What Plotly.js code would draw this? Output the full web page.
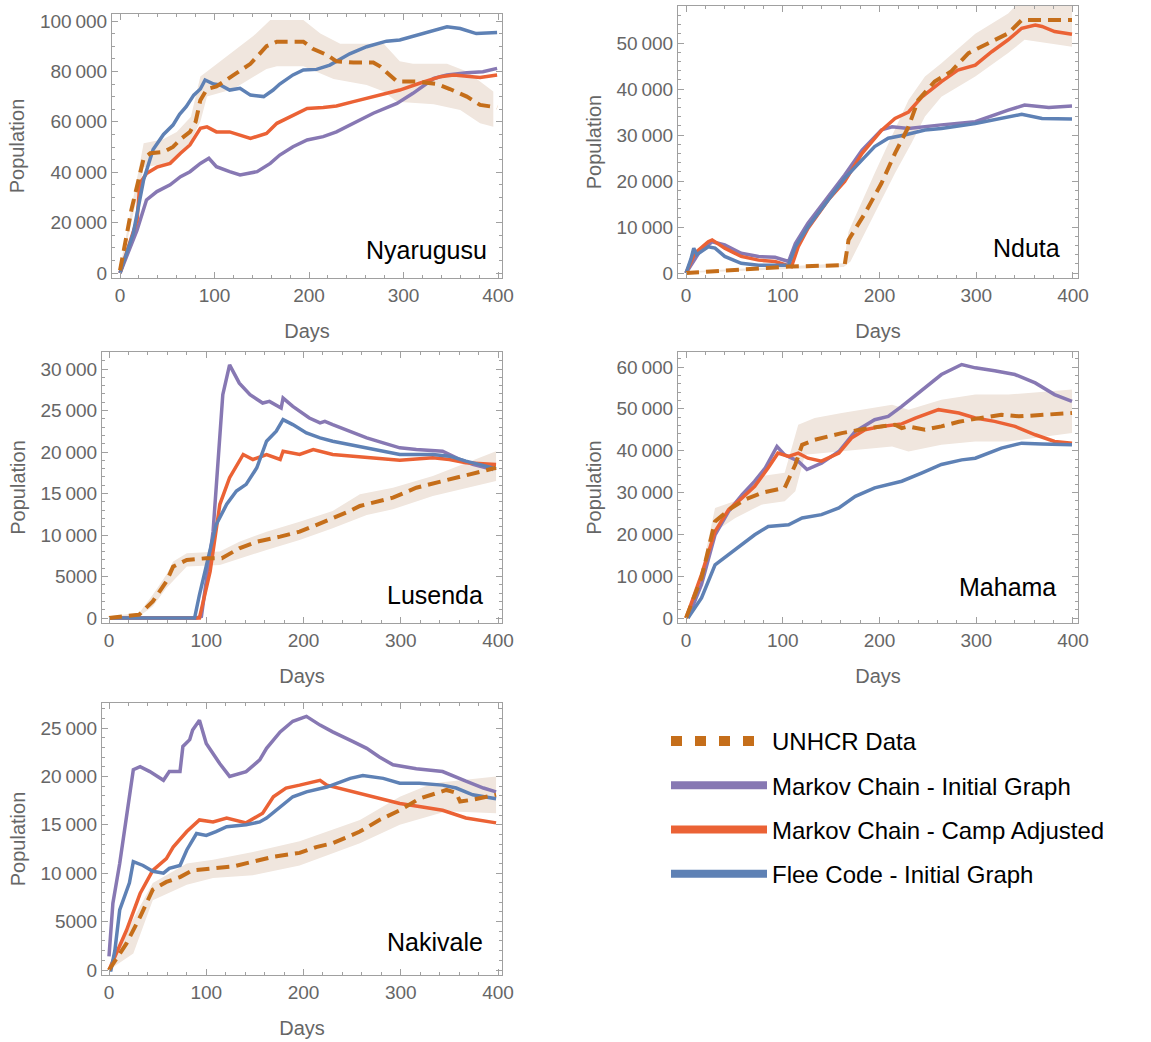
<!DOCTYPE html>
<html>
<head>
<meta charset="utf-8">
<script src="https://cdn.plot.ly/plotly-3.0.1.min.js"></script>
<style>html,body{margin:0;padding:0;background:#fff;}#chart{width:1151px;height:1042px;}</style>
</head>
<body>
<div id="chart"></div>
<script>
// ---------- Series names ----------
const seriesNames = ["UNHCR Data", "Markov Chain - Initial Graph", "Markov Chain - Camp Adjusted", "Flee Code - Initial Graph"];
const campNames = ["Nyarugusu", "Nduta", "Lusenda", "Mahama", "Nakivale"];

// ---------- Nyarugusu ----------
const nyUnhcrX = [0,12,25,32,46,56,65,74,80,85,92,102,120,138,155,166,194,204,219,229,247,268,275,293,314,335,349,367,381,399];
const nyUnhcrY = [1000,25000,45500,47500,48000,50000,53400,56000,60000,68600,73000,74000,78500,83000,90000,91800,91800,89000,86500,84000,83500,83500,82000,76000,76000,75000,73000,70000,66700,65700];
const nyBandHiX = [0,25,45,60,75,85,92,113,127,141,159,194,212,233,279,296,310,346,367,395];
const nyBandHi = [2000,51500,53000,56000,62000,78000,80000,86000,90000,94000,100400,100400,95000,91000,91000,84000,83000,83000,80000,72000];
const nyBandLoX = [0,25,50,70,85,92,120,155,166,194,226,261,279,293,332,360,381,395];
const nyBandLo = [0,42000,43500,48800,60000,70000,73000,81000,82000,82000,77000,74600,72000,68000,67000,64700,59400,58000];
const nyMcX = [0,18,28,39,53,64,74,85,94,102,116,127,145,159,169,183,198,215,229,247,268,293,310,332,346,367,384,399];
const nyMcY = [0,17000,29000,32300,35000,38200,40200,43500,45500,42200,40200,38900,40200,43500,46800,50100,52800,54100,56000,59400,63400,67300,71300,77200,78600,79500,79900,81200];
const nyAdjX = [0,18,21,28,39,53,64,74,85,92,102,116,138,155,166,183,198,215,229,247,261,279,296,317,339,353,381,399];
const nyAdjY = [0,21000,35600,39500,42000,43500,47500,50800,57400,58000,56000,56000,53400,55400,59400,62700,65300,65700,66300,68000,69300,71300,72600,75300,77900,78600,77600,78600];
const nyFleeX = [0,14,25,35,46,56,63,70,78,85,90,99,106,116,127,138,152,162,169,183,194,208,222,243,261,282,296,314,335,346,360,377,399];
const nyFleeY = [0,15700,37000,49000,55000,58700,63000,66000,70600,73000,76600,75000,74600,72600,73300,70600,70000,72600,75000,78600,80600,80800,82500,87000,89800,92000,92500,94400,96700,97700,97000,95000,95400];

// ---------- Nduta ----------
const ndUnhcrX = [0,57,106,164,168,185,202,216,230,240,257,274,292,312,333,347,367,399];
const ndUnhcrY = [0,650,1400,1700,7200,13000,19500,26000,31800,37600,41600,43800,47800,49900,52100,55000,55000,55000];
const ndBandHiX = [0,163,168,195,230,247,264,299,333,343,399];
const ndBandHi = [300,2100,9000,21700,37600,42700,45600,52000,56400,58600,61000];
const ndBandLoX = [0,163,170,188,216,233,247,264,299,333,350,399];
const ndBandLo = [0,1300,2500,10000,21700,28200,34000,38300,42700,47800,50700,49200];
const ndMcX = [0,13,27,40,57,75,92,106,113,126,147,164,182,202,213,230,264,299,333,350,375,399];
const ndMcY = [0,4300,6800,6100,4300,3600,3400,2500,6400,10800,16600,21300,26700,31100,31800,31400,32200,32900,35400,36500,36000,36300];
const ndAdjX = [0,9,23,27,40,57,75,92,109,116,126,147,164,182,202,216,230,244,264,281,299,316,333,347,361,368,381,399];
const ndAdjY = [0,4300,6800,7200,5400,3600,2800,2500,1400,5700,9700,15900,19900,26000,31000,33600,35000,38300,41600,44100,45200,48100,50700,53200,53900,53600,52500,51900];
const ndFleeX = [0,5,8,11,23,30,40,57,75,92,106,113,126,147,164,182,195,209,226,247,264,299,326,347,368,399];
const ndFleeY = [0,3000,5400,4000,5700,5400,3600,2100,1700,1700,1700,5700,10000,15900,20600,24600,27500,29300,30000,31100,31400,32500,33600,34500,33600,33500];

// ---------- Lusenda ----------
const luUnhcrX = [0,31,45,59,66,80,100,116,134,152,176,196,213,230,248,258,278,292,316,350,398];
const luUnhcrY = [0,400,2000,4400,6200,7000,7200,7200,8400,9200,9800,10400,11200,12000,12900,13500,14100,14500,15700,16700,18100];
const luBandHiX = [0,31,45,59,66,80,114,134,162,196,230,258,292,333,398];
const luBandHi = [200,600,2800,5200,6800,7800,8000,9200,10400,11600,12900,14900,15700,17100,20100];
const luBandLoX = [0,31,45,59,80,114,162,196,230,265,292,333,398];
const luBandLo = [0,200,1400,3600,6200,6400,8200,9400,10800,12400,13100,14700,16500];
const luMcX = [0,90,95,107,117,124,134,145,158,165,177,179,189,206,217,222,230,248,265,282,299,316,343,361,374,395];
const luMcY = [0,0,200,10400,26900,30500,28300,26900,25900,26100,25300,26500,25500,24100,23500,23700,23300,22500,21700,21100,20500,20300,20100,19100,18500,17900];
const luAdjX = [0,93,104,114,124,138,148,162,176,179,196,210,230,265,299,333,350,367,398];
const luAdjY = [0,0,5600,13700,16900,19700,19100,19700,19100,20100,19700,20300,19700,19300,19000,19300,19100,18700,18500];
const luFleeX = [0,88,93,100,110,121,131,141,152,162,172,179,189,203,217,230,248,265,282,299,333,350,367,398];
const luFleeY = [0,0,2800,6400,11200,13700,15300,16100,18100,21300,22500,23900,23300,22300,21700,21300,20900,20500,20100,19700,19700,19500,18900,18000];

// ---------- Mahama ----------
const maUnhcrX = [0,16,30,47,61,78,102,113,120,133,161,189,216,223,230,247,264,282,299,326,344,368,399];
const maUnhcrY = [0,9600,23100,26300,28300,29900,31100,36700,41400,42600,44200,45400,46200,45400,45800,45000,45800,46900,47600,48600,48200,48600,49000];
const maBandHiX = [0,16,30,50,78,102,116,133,161,213,230,264,299,333,399];
const maBandHi = [500,11000,26300,27900,33900,34700,46200,47800,49000,51000,49800,52200,53400,53400,54600];
const maBandLoX = [0,16,30,51,78,102,113,123,161,213,230,264,299,333,399];
const maBandLo = [0,8000,20700,23900,27100,27900,30300,39000,39800,41000,39800,41400,42200,42200,44200];
const maMcX = [2,16,30,44,58,71,82,94,102,116,125,140,158,175,195,209,223,244,264,285,299,319,340,361,381,399];
const maMcY = [0,8000,19900,25500,29500,32700,35900,41000,39000,37500,35500,37000,39800,44600,47400,48200,50600,54600,58200,60600,59800,59100,58200,56200,53400,51800];
const maAdjX = [0,16,30,44,58,71,85,95,106,116,126,140,158,171,185,202,223,237,261,282,299,319,340,361,381,399];
const maAdjY = [0,10400,20700,25900,28700,31500,35900,39400,38600,39400,38200,37500,39400,43000,45000,45800,46400,47800,49800,49000,47800,47000,45800,43800,42200,41800];
const maFleeX = [2,16,30,44,58,71,85,106,120,140,158,175,195,223,244,264,285,299,326,347,368,399];
const maFleeY = [0,4800,12700,15100,17500,19900,21900,22300,23900,24700,26300,29100,31100,32700,34700,36700,37800,38200,40600,41800,41600,41400];

// ---------- Nakivale ----------
const naUnhcrX = [0,18,32,45,59,73,86,107,128,148,169,196,213,230,258,278,299,319,347,357,361,374,398];
const naUnhcrY = [0,2750,5500,8300,9100,9600,10300,10500,10700,11200,11700,12100,12700,13100,14300,15500,16500,17700,18600,18300,17400,17600,18100];
const naBandHiX = [0,18,45,80,107,148,196,258,299,333,398];
const naBandHi = [500,4000,9000,11000,11400,12200,13300,15500,17900,19300,20000];
const naBandLoX = [0,25,45,80,107,148,196,258,299,347,398];
const naBandLo = [0,1700,7200,8800,9500,9800,10800,13100,15000,16400,16200];
const naMcX = [0,4,11,25,32,42,56,62,73,76,83,86,93,100,114,124,141,155,162,176,189,203,217,230,251,265,278,292,316,343,367,385,398];
const naMcY = [1400,6900,11000,20700,21000,20500,19600,20500,20500,23100,23800,24800,25800,23400,21300,20000,20500,21700,22900,24600,25700,26200,25300,24600,23600,22900,22000,21200,20800,20500,19500,18800,18400];
const naAdjX = [0,18,32,45,59,66,80,93,107,121,141,158,169,182,196,217,224,244,265,285,299,319,343,367,398];
const naAdjY = [0,4100,7900,10300,11500,12700,14300,15500,15300,15700,15200,16200,17900,18800,19100,19600,19100,18600,18100,17600,17200,16900,16500,15700,15200];
const naFleeX = [0,2,6,11,21,25,35,45,56,62,73,80,90,100,110,121,141,155,162,176,189,203,224,248,261,282,299,319,343,357,374,398];
const naFleeY = [0,0,2000,6200,9000,11200,10800,10200,10000,10500,10800,12400,14100,13900,14300,14800,15000,15300,15700,16900,17900,18400,18900,19800,20100,19800,19300,19300,19100,18800,18100,17700];

// ---------- Styles ----------
const C_UNHCR = "#C56E1A", C_MC = "#8778B3", C_ADJ = "#EB6235", C_FLEE = "#5E81B5", C_BAND = "#F0E6DE";
const FONT = "Liberation Sans, Arial, Helvetica, sans-serif";
const GRAY_TXT = "#666666", GRAY_AX = "#A0A0A0";

const camps = [
  {name: campNames[0], u:[nyUnhcrX,nyUnhcrY], hi:[nyBandHiX,nyBandHi], lo:[nyBandLoX,nyBandLo], mc:[nyMcX,nyMcY], adj:[nyAdjX,nyAdjY], fl:[nyFleeX,nyFleeY]},
  {name: campNames[1], u:[ndUnhcrX,ndUnhcrY], hi:[ndBandHiX,ndBandHi], lo:[ndBandLoX,ndBandLo], mc:[ndMcX,ndMcY], adj:[ndAdjX,ndAdjY], fl:[ndFleeX,ndFleeY]},
  {name: campNames[2], u:[luUnhcrX,luUnhcrY], hi:[luBandHiX,luBandHi], lo:[luBandLoX,luBandLo], mc:[luMcX,luMcY], adj:[luAdjX,luAdjY], fl:[luFleeX,luFleeY]},
  {name: campNames[3], u:[maUnhcrX,maUnhcrY], hi:[maBandHiX,maBandHi], lo:[maBandLoX,maBandLo], mc:[maMcX,maMcY], adj:[maAdjX,maAdjY], fl:[maFleeX,maFleeY]},
  {name: campNames[4], u:[naUnhcrX,naUnhcrY], hi:[naBandHiX,naBandHi], lo:[naBandLoX,naBandLo], mc:[naMcX,naMcY], adj:[naAdjX,naAdjY], fl:[naFleeX,naFleeY]}
];

// layout geometry (pixels in a 1151 x 1042 page)
const W = 1151, H = 1042;
const panels = [
  {px:[112,502], py:[14,278],  xr:[-8.5,404.2], yr:[-1984,102778], ydt:20000, ymin:5000, lab:{dx:-13, dy:28}},
  {px:[678,1078], py:[6,278],  xr:[-8.3,405.2], yr:[-1087,58043],  ydt:10000, ymin:2000, lab:{dx:-16, dy:30}},
  {px:[102,502], py:[352,623], xr:[-7.2,404.1], yr:[-602,32048],   ydt:5000,  ymin:1000, lab:{dx:-17, dy:28}},
  {px:[678,1078], py:[352,623],xr:[-8.3,405.2], yr:[-1195,63586],  ydt:10000, ymin:2000, lab:{dx:-20, dy:36}},
  {px:[102,502], py:[703,975], xr:[-7.2,404.1], yr:[-516,27583],   ydt:5000,  ymin:1000, lab:{dx:-17, dy:33}}
];

const traces = [];
const layout = {
  width: W, height: H,
  margin: {l:0, r:0, t:0, b:0},
  paper_bgcolor: "#ffffff", plot_bgcolor: "#ffffff",
  font: {family: FONT, color: GRAY_TXT},
  separators: ".\u2009",
  showlegend: true,
  legend: {
    x: 666/W, y: 1 - 719/H, xanchor: "left", yanchor: "top",
    font: {family: FONT, size: 24, color: "#000000"},
    itemwidth: 96, tracegroupgap: 10, traceorder: "grouped",
    bgcolor: "rgba(0,0,0,0)", borderwidth: 0
  },
  annotations: []
};

camps.forEach((c, i) => {
  const k = i === 0 ? "" : String(i + 1);
  const xa = "x" + k, ya = "y" + k;
  const p = panels[i];
  // uncertainty band around the UNHCR data
  traces.push({
    x: c.hi[0].concat(c.lo[0].slice().reverse()),
    y: c.hi[1].concat(c.lo[1].slice().reverse()),
    xaxis: xa, yaxis: ya, mode: "lines", fill: "toself", fillcolor: C_BAND,
    line: {width: 0, color: C_BAND}, showlegend: false, hoverinfo: "skip"
  });
  traces.push({x: c.mc[0], y: c.mc[1], xaxis: xa, yaxis: ya, mode: "lines", name: seriesNames[1], showlegend: false, line: {color: C_MC, width: 3.5}});
  traces.push({x: c.adj[0], y: c.adj[1], xaxis: xa, yaxis: ya, mode: "lines", name: seriesNames[2], showlegend: false, line: {color: C_ADJ, width: 3.5}});
  traces.push({x: c.fl[0], y: c.fl[1], xaxis: xa, yaxis: ya, mode: "lines", name: seriesNames[3], showlegend: false, line: {color: C_FLEE, width: 3.5}});
  traces.push({x: c.u[0], y: c.u[1], xaxis: xa, yaxis: ya, mode: "lines", name: seriesNames[0], showlegend: false, line: {color: C_UNHCR, width: 4, dash: "13px,7px"}});

  const common = {
    showline: true, linecolor: GRAY_AX, linewidth: 1, mirror: "allticks",
    ticks: "inside", ticklen: 6, tickwidth: 1, tickcolor: GRAY_AX,
    showgrid: false, zeroline: false, fixedrange: true,
    exponentformat: "none", separatethousands: false,
    tickfont: {family: FONT, size: 19, color: GRAY_TXT}
  };
  layout["xaxis" + k] = Object.assign({}, common, {
    domain: [p.px[0]/W, p.px[1]/W], range: p.xr, anchor: ya,
    tickmode: "linear", tick0: 0, dtick: 100,
    minor: {ticks: "inside", ticklen: 3, tickwidth: 1, tickcolor: GRAY_AX, dtick: 20, tick0: 0, showgrid: false},
    title: {text: "Days", font: {family: FONT, size: 20, color: GRAY_TXT}, standoff: 19}
  });
  layout["yaxis" + k] = Object.assign({}, common, {
    domain: [1 - p.py[1]/H, 1 - p.py[0]/H], range: p.yr, anchor: xa,
    tickmode: "linear", tick0: 0, dtick: p.ydt,
    minor: {ticks: "inside", ticklen: 3, tickwidth: 1, tickcolor: GRAY_AX, dtick: p.ymin, tick0: 0, showgrid: false},
    title: {text: "Population", font: {family: FONT, size: 20, color: GRAY_TXT}, standoff: 9}
  });
  layout.annotations.push({
    text: c.name, xref: xa + " domain", yref: ya + " domain", x: 1, y: 0,
    xanchor: "right", yanchor: "middle", xshift: p.lab.dx, yshift: p.lab.dy,
    showarrow: false, font: {family: FONT, size: 25, color: "#000000"}
  });
});

// legend entries (legend-only traces)
const legendStyles = [
  {color: C_UNHCR, width: 11, dash: "11px,13px"},
  {color: C_MC, width: 8},
  {color: C_ADJ, width: 8},
  {color: C_FLEE, width: 8}
];
seriesNames.forEach((n, i) => {
  traces.push({x: [null], y: [null], xaxis: "x", yaxis: "y", mode: "lines", name: n, legendgroup: "g" + i,
               showlegend: true, hoverinfo: "skip", line: legendStyles[i]});
});

Plotly.newPlot("chart", traces, layout, {staticPlot: true, displayModeBar: false});
</script>
</body>
</html>
